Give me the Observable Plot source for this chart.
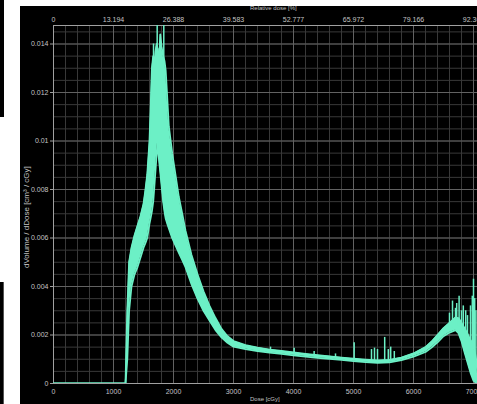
<!DOCTYPE html>
<html><head><meta charset="utf-8">
<script src="https://cdn.jsdelivr.net/npm/d3@7"></script>
<script src="https://cdn.jsdelivr.net/npm/@observablehq/plot@0.6"></script>
<style>
html,body{margin:0;padding:0;background:#fff;width:477px;height:404px;overflow:hidden;position:relative;font-family:"Liberation Sans",Arial,sans-serif;}
#panel{position:absolute;left:20px;top:6px;width:470px;height:398px;background:#000;overflow:hidden;}
#panel svg{position:absolute;left:0;top:0;}
.lbl{position:absolute;color:#c4c4c4;font-size:6px;white-space:nowrap;line-height:1;}
.art1{position:absolute;left:0;top:0;width:4px;height:117px;background:#000;}
.art2{position:absolute;left:0;top:282px;width:3px;height:122px;background:#000;border-right:1px solid #555;}
</style></head>
<body>
<div class="art1"></div><div class="art2"></div>
<div id="panel"></div>
<script>
// ---- data ----
const dose  = [0, 1200, 1230, 1260, 1300, 1350, 1400, 1450, 1500, 1533, 1562, 1600, 1617, 1640, 1662, 1680, 1700, 1720, 1733, 1760, 1780, 1800, 1828, 1850, 1870, 1895, 1922, 1978, 2033, 2088, 2145, 2200, 2300, 2400, 2500, 2600, 2700, 2800, 2900, 3000, 3200, 3400, 3600, 3800, 4000, 4200, 4400, 4600, 4800, 5000, 5200, 5400, 5600, 5800, 6000, 6200, 6300, 6400, 6500, 6600, 6700, 6750, 6800, 6850, 6900, 6950, 7000, 7050, 7080];
const upper = [0, 0, 0.0030, 0.0050, 0.0056, 0.0061, 0.0065, 0.0069, 0.0074, 0.0080, 0.0086, 0.0100, 0.0112, 0.0130, 0.0135, 0.0130, 0.0137, 0.0140, 0.0138, 0.0133, 0.0144, 0.0139, 0.0135, 0.0133, 0.0129, 0.0118, 0.0106, 0.0095, 0.0086, 0.0077, 0.0070, 0.0063, 0.0053, 0.0045, 0.0038, 0.0032, 0.0027, 0.00225, 0.00195, 0.00175, 0.00158, 0.00148, 0.00140, 0.00134, 0.00128, 0.00122, 0.00117, 0.00112, 0.00107, 0.00102, 0.00098, 0.00095, 0.00097, 0.00107, 0.00124, 0.00150, 0.00172, 0.00200, 0.00228, 0.00250, 0.00272, 0.00270, 0.00250, 0.00228, 0.00205, 0.00180, 0.00160, 0.00090, 0];
const lower = [0, 0, 0.0010, 0.0030, 0.0040, 0.0045, 0.0048, 0.0052, 0.0056, 0.0058, 0.0060, 0.0066, 0.0068, 0.0071, 0.0075, 0.0081, 0.0088, 0.0095, 0.0099, 0.0092, 0.0087, 0.0082, 0.0075, 0.0071, 0.0068, 0.0066, 0.0064, 0.0060, 0.0057, 0.0054, 0.0051, 0.0048, 0.0041, 0.0035, 0.0030, 0.0026, 0.0022, 0.00190, 0.00168, 0.00152, 0.00142, 0.00134, 0.00127, 0.00122, 0.00116, 0.00111, 0.00106, 0.00102, 0.00097, 0.00092, 0.00088, 0.00085, 0.00087, 0.00096, 0.00111, 0.00130, 0.00148, 0.00170, 0.00195, 0.00210, 0.00220, 0.00208, 0.00175, 0.00130, 0.00088, 0.00045, 0.00012, 0, 0];
// isolated spikes: dose, base, top
const spikeDose = [1667, 1728, 1760, 1838, 3617, 4011, 4344, 4700, 5011, 5300, 5350, 5400, 5520, 5580, 5620, 5680, 6600, 6650, 6700, 6720, 6760, 6800, 6830, 6870, 6900, 6950, 6980, 7000, 7020, 7040];
const spikeBase = [0.0130, 0.0130, 0.0130, 0.0130, 0.00129, 0.00119, 0.00110, 0.00102, 0.00095, 0.00088, 0.00088, 0.00088, 0.00088, 0.00089, 0.00090, 0.00093, 0.00220, 0.00230, 0.00235, 0.00235, 0.00230, 0.00220, 0.00210, 0.00200, 0.00180, 0.00160, 0.00150, 0.00140, 0.00100, 0.00060];
const spikeTop  = [0.0140, 0.0155, 0.0138, 0.0155, 0.00150, 0.00145, 0.00132, 0.00122, 0.00168, 0.00140, 0.00146, 0.00140, 0.00190, 0.00140, 0.00150, 0.00132, 0.00290, 0.00340, 0.00310, 0.00330, 0.00360, 0.00300, 0.00320, 0.00300, 0.00280, 0.00320, 0.00360, 0.00430, 0.00350, 0.00300];
// axes
const xTicks = [0, 1000, 2000, 3000, 4000, 5000, 6000, 7000];
const xTickLabels = ["0", "1000", "2000", "3000", "4000", "5000", "6000", "7000"];
const relTickLabels = ["0", "13.194", "26.388", "39.583", "52.777", "65.972", "79.166", "92.361"];
const yTicks = [0, 0.002, 0.004, 0.006, 0.008, 0.010, 0.012, 0.014];
const yTickLabels = ["0", "0.002", "0.004", "0.006", "0.008", "0.01", "0.012", "0.014"];

const curve = dose.map((d, i) => ({dose: d, hi: upper[i], lo: lower[i]}));
const spikes = spikeDose.map((d, i) => ({dose: d, b: spikeBase[i], t: spikeTop[i]}));
const minorX = d3.range(0, 7101, 200);
const minorY = d3.range(0, 0.0148, 0.0005);
const col = "#6cf0c6";

const chart = Plot.plot({
  width: 470, height: 398,
  marginLeft: 33, marginRight: 11, marginTop: 19, marginBottom: 21,
  style: {background: "#000", color: "#c4c4c4", fontSize: "7px", fontFamily: "Liberation Sans, Arial, sans-serif"},
  x: {domain: [0, 7100], axis: null, label: null},
  y: {domain: [0, 0.014763], axis: null, label: null},
  marks: [
    Plot.gridX(minorX, {stroke: "#383838", strokeOpacity: 1}),
    Plot.gridY(minorY, {stroke: "#383838", strokeOpacity: 1}),
    Plot.gridX(xTicks, {stroke: "#626262", strokeOpacity: 1}),
    Plot.gridY(yTicks, {stroke: "#626262", strokeOpacity: 1}),
    Plot.frame({stroke: "#a0a0a0"}),
    Plot.axisX(xTicks, {anchor: "bottom", label: null, tickSize: 0, tickPadding: 6, tickFormat: (d, i) => xTickLabels[i], fill: "#c4c4c4"}),
    Plot.axisX(xTicks, {anchor: "top", label: null, tickSize: 0, tickPadding: 4, tickFormat: (d, i) => relTickLabels[i], fill: "#c4c4c4"}),
    Plot.axisY(yTicks, {anchor: "left", label: null, tickSize: 3, tickPadding: 2, stroke: "#a0a0a0", tickFormat: (d, i) => yTickLabels[i], fill: "#c4c4c4"}),
    Plot.areaY(curve, {x: "dose", y1: "lo", y2: "hi", fill: col, clip: true}),
    Plot.line(curve, {x: "dose", y: "hi", stroke: col, strokeWidth: 1.8, clip: true}),
    Plot.line(curve, {x: "dose", y: "lo", stroke: col, strokeWidth: 1.8, clip: true}),
    Plot.ruleX(spikes, {x: "dose", y1: "b", y2: "t", stroke: col, strokeWidth: 1.5, clip: true})
  ]
});
const panel = document.getElementById("panel");
panel.appendChild(chart);
function addLbl(text, left, top, rot, size) {
  const el = document.createElement("div");
  el.className = "lbl"; el.textContent = text;
  el.style.left = left + "px"; el.style.top = top + "px";
  if (size) el.style.fontSize = size + "px";
  if (rot) { el.style.transformOrigin = "0 0"; el.style.transform = "rotate(-90deg)"; }
  panel.appendChild(el);
}
addLbl("Relative dose [%]", 230, -1);
addLbl("Dose [cGy]", 230, 390);
addLbl("dVolume / dDose [cm\u00b3 / cGy]", 3, 262, true, 8);
</script>
</body></html>
